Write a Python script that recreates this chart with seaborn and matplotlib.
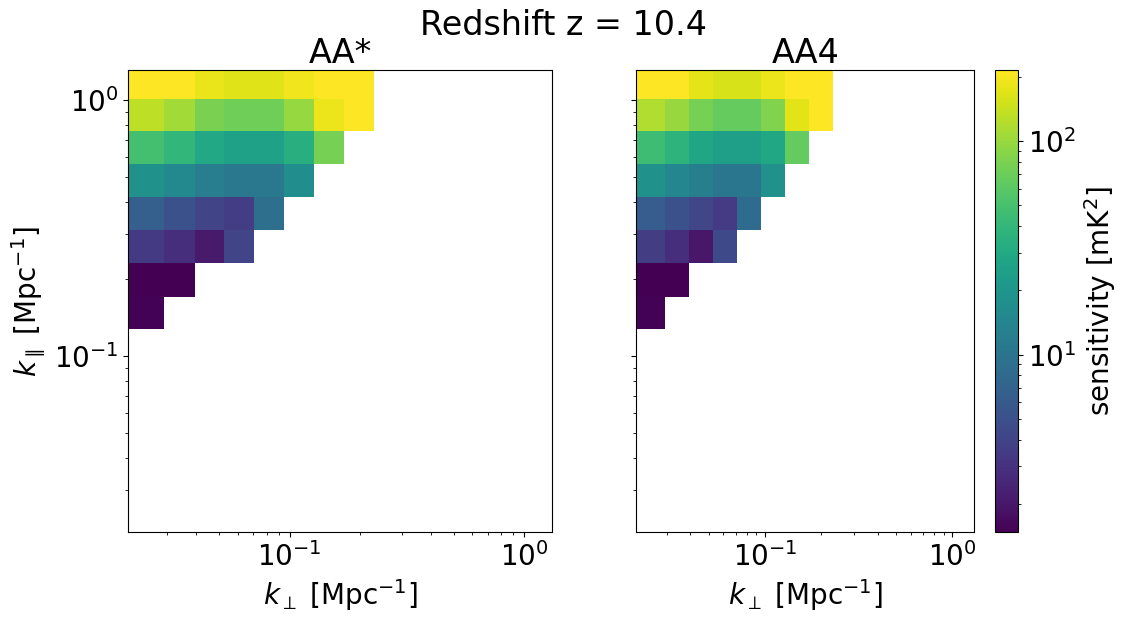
# Sensitivity maps in (k_perp, k_par) for two array layouts

import numpy as np
import matplotlib
matplotlib.use('Agg')
import matplotlib.pyplot as plt
from matplotlib.colors import LogNorm
import seaborn as sns

sns.set_style('ticks')
plt.rcParams['font.family'] = ['DejaVu Sans']
plt.rcParams['mathtext.fontset'] = 'dejavusans'
plt.rcParams.update({'text.color': 'k', 'axes.labelcolor': 'k',
                     'xtick.color': 'k', 'ytick.color': 'k', 'axes.edgecolor': 'k'})

## bin edges [Mpc^-1]
kperp_edges = [0.0205, 0.0292, 0.0393, 0.0527, 0.0708, 0.0948, 0.1274, 0.171, 0.2296]
kpar_edges = [0.128, 0.171, 0.231, 0.310, 0.418, 0.562, 0.757, 1.009, 1.31]
k_lims = (0.0205, 1.31)

nan = np.nan

## AA* sensitivity [mK^2], rows from lowest k_par to highest
sens_aastar = np.array([
 [1.52, nan, nan, nan, nan, nan, nan, nan],
 [1.40, 1.40, nan, nan, nan, nan, nan, nan],
 [3.43, 2.81, 2.08, 4.0, nan, nan, nan, nan],
 [6.56, 5.1, 4.0, 3.6, 8.85, nan, nan, nan],
 [17.8, 15.3, 11.9, 10.8, 10.8, 16.9, nan, nan],
 [48.0, 39.5, 29.3, 25.2, 25.2, 34.0, 75.5, nan],
 [131., 107., 79.6, 72.0, 72.0, 97.0, 185., 230.],
 [230., 230., 181., 168., 168., 195., 230., 230.]])

## AA4 sensitivity [mK^2]
sens_aa4 = np.array([
 [1.50, nan, nan, nan, nan, nan, nan, nan],
 [1.40, 1.40, nan, nan, nan, nan, nan, nan],
 [3.6, 2.81, 1.98, 4.4, nan, nan, nan, nan],
 [6.24, 5.1, 4.19, 3.52, 8.2, nan, nan, nan],
 [17.8, 14.6, 12.5, 10.5, 10.5, 17.8, nan, nan],
 [45.9, 36.7, 27.9, 24.0, 24.0, 28.6, 65.0, nan],
 [118., 99.0, 75.5, 66.7, 66.7, 83.4, 172., 230.],
 [230., 230., 176., 160., 160., 185., 230., 230.]])

titles = ['AA*', 'AA4']
vmin, vmax = 1.47, 215.

fig = plt.figure(figsize=(11.27, 6.23), dpi=100)
ax1 = fig.add_axes([0.1138, 0.1456, 0.3757, 0.7416])
ax2 = fig.add_axes([0.5643, 0.1456, 0.3003, 0.7416])
cax = fig.add_axes([0.8830, 0.1456, 0.0204, 0.7416])

cmap = sns.color_palette('viridis', as_cmap=True)
norm = LogNorm(vmin=vmin, vmax=vmax)

for ax, sens, title in zip([ax1, ax2], [sens_aastar, sens_aa4], titles):
    mesh = ax.pcolormesh(kperp_edges, kpar_edges, np.ma.masked_invalid(sens),
                         cmap=cmap, norm=norm)
    ax.set_xscale('log')
    ax.set_yscale('log')
    ax.set_xlim(*k_lims)
    ax.set_ylim(*k_lims)
    ax.set_title(title, fontsize=24, pad=4)
    ax.set_xlabel(r'$k_\perp$ [Mpc$^{-1}$]', fontsize=20)
    ax.tick_params(labelsize=20)

ax1.set_ylabel(r'$k_\parallel$ [Mpc$^{-1}$]', fontsize=20)
ax2.tick_params(axis='y', labelleft=False)

cb = fig.colorbar(mesh, cax=cax)
cb.set_label(r'sensitivity [mK$^2$]', fontsize=20)
cb.ax.tick_params(labelsize=20)
cb.outline.set_edgecolor('k')

fig.suptitle('Redshift z = 10.4', fontsize=24, y=0.985)

plt.savefig('out.png', dpi=100)
